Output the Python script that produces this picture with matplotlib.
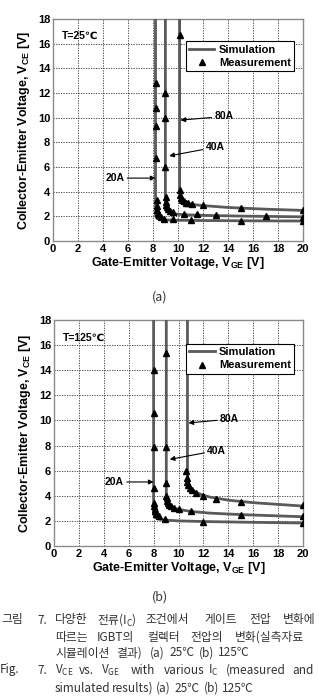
import matplotlib
matplotlib.use("Agg")
import matplotlib.pyplot as plt

# ---- data ----
# (a) T = 25C, simulation curves
sim_a_20_x = [8.2, 8.2, 8.22, 8.28, 8.4, 8.7, 9.2, 10.0, 12.0, 15.0, 20.0]
sim_a_20_y = [19.0, 2.6, 2.05, 1.86, 1.78, 1.73, 1.70, 1.68, 1.66, 1.64, 1.62]
sim_a_40_x = [8.99, 8.99, 9.02, 9.1, 9.3, 9.7, 10.5, 12.0, 15.0, 20.0]
sim_a_40_y = [19.0, 3.3, 2.8, 2.5, 2.32, 2.2, 2.13, 2.08, 2.02, 1.96]
sim_a_80_x = [10.13, 10.13, 10.16, 10.3, 10.6, 11.0, 12.0, 14.0, 17.0, 20.0]
sim_a_80_y = [19.0, 4.3, 3.7, 3.3, 3.08, 2.98, 2.87, 2.72, 2.58, 2.48]

# (a) measurements
meas_a_20_x = [8.25, 8.25, 8.25, 8.25, 8.28, 8.3, 8.33, 8.38, 8.45, 8.6, 8.9, 9.6, 11.0, 15.0, 20.0]
meas_a_20_y = [12.8, 10.8, 9.3, 6.7, 3.3, 2.8, 2.5, 2.3, 2.1, 1.95, 1.82, 1.76, 1.7, 1.65, 1.6]
meas_a_40_x = [8.99, 8.99, 8.99, 9.0, 9.03, 9.07, 9.12, 9.2, 9.35, 9.6, 10.5, 11.5, 13.0, 17.0, 20.0]
meas_a_40_y = [12.0, 10.0, 6.0, 3.6, 3.2, 2.95, 2.75, 2.6, 2.45, 2.35, 2.22, 2.15, 2.1, 2.05, 1.98]
meas_a_80_x = [10.13, 10.13, 10.15, 10.2, 10.3, 10.45, 10.6, 10.8, 11.1, 12.0, 15.0, 20.0]
meas_a_80_y = [16.7, 4.1, 3.75, 3.5, 3.35, 3.22, 3.12, 3.05, 2.98, 2.88, 2.7, 2.5]

# (b) T = 125C, simulation curves
sim_b_20_x = [8.0, 8.0, 8.03, 8.1, 8.3, 8.7, 9.2, 10.0, 12.0, 15.0, 20.0]
sim_b_20_y = [19.0, 3.0, 2.5, 2.3, 2.18, 2.1, 2.05, 2.0, 1.95, 1.9, 1.83]
sim_b_40_x = [9.02, 9.02, 9.05, 9.15, 9.35, 9.7, 10.2, 11.0, 12.5, 15.0, 20.0]
sim_b_40_y = [19.0, 4.3, 3.8, 3.45, 3.2, 3.0, 2.88, 2.75, 2.62, 2.5, 2.33]
sim_b_80_x = [10.72, 10.72, 10.75, 10.85, 11.0, 11.3, 11.8, 12.5, 14.0, 16.0, 20.0]
sim_b_80_y = [19.0, 6.0, 5.3, 4.9, 4.6, 4.35, 4.1, 3.9, 3.65, 3.45, 3.18]

# (b) measurements
meas_b_20_x = [8.0, 8.0, 8.0, 8.0, 8.03, 8.05, 8.08, 8.12, 8.2, 8.4, 8.9, 12.0, 20.0]
meas_b_20_y = [14.0, 10.6, 7.9, 4.6, 3.4, 3.15, 2.95, 2.75, 2.55, 2.35, 2.15, 1.92, 1.85]
meas_b_40_x = [9.02, 9.02, 9.02, 9.02, 9.05, 9.1, 9.15, 9.25, 9.4, 9.6, 10.0, 11.0, 15.0, 20.0]
meas_b_40_y = [15.4, 7.9, 5.0, 4.0, 3.8, 3.6, 3.45, 3.3, 3.15, 3.05, 2.92, 2.75, 2.5, 2.38]
meas_b_80_x = [10.62, 10.65, 10.7, 10.78, 10.9, 11.1, 11.4, 12.0, 13.0, 15.0, 20.0]
meas_b_80_y = [6.0, 5.4, 5.1, 4.85, 4.65, 4.45, 4.2, 4.0, 3.75, 3.5, 3.25]

current_labels = ["20A", "40A", "80A"]
temp_labels = ["T=25\u2103", "T=125\u2103"]

x_ticks = [0, 2, 4, 6, 8, 10, 12, 14, 16, 18, 20]
y_ticks = [0, 2, 4, 6, 8, 10, 12, 14, 16, 18]

plt.rcParams['font.family'] = ['Liberation Sans', 'DejaVu Sans']
plt.rcParams['font.weight'] = 'bold'
plt.rcParams['axes.labelweight'] = 'bold'
plt.rcParams['mathtext.default'] = 'regular'

fig = plt.figure(figsize=(3.19, 6.96), dpi=100)

SIM_COLOR = '#5a5a5a'


def draw_panel(ax, sims, meas, temp_label, label_pos, leg_anchor):
    for i, (sx, sy) in enumerate(sims):
        ax.plot(sx, sy, color=SIM_COLOR, lw=2.0, solid_joinstyle='round',
                label='Simulation' if i == 0 else None, zorder=3)
    for i, (mx, my) in enumerate(meas):
        ax.plot(mx, my, ls='none', marker='^', ms=4.2, color='black',
                label='Measurement' if i == 0 else None, zorder=4)

    ax.set_xlim(0, 20)
    ax.set_ylim(0, 18)
    ax.set_xticks(x_ticks)
    ax.set_yticks(y_ticks)
    ax.tick_params(length=0, labelsize=8, pad=2)
    for lbl in ax.get_xticklabels() + ax.get_yticklabels():
        lbl.set_fontweight('bold')
    ax.grid(True, color='#333333', ls=(0, (1.5, 1.5)), lw=0.6)
    for sp in ax.spines.values():
        sp.set_color('#8a8a8a')
        sp.set_linewidth(1.0)

    ax.set_xlabel('Gate-Emitter Voltage, V$_{GE}$ [V]', fontsize=9, labelpad=1)
    ax.set_ylabel('Collector-Emitter Voltage, V$_{CE}$ [V]', fontsize=9, labelpad=4)

    ax.text(0.7, 16.6, temp_label, fontsize=7.5, va='center', ha='left')

    # arrows with current labels
    for lab, (tx, ty, px, py) in zip(current_labels, label_pos):
        ax.annotate(lab, xy=(px, py), xytext=(tx, ty), fontsize=7.5,
                    va='center', ha='left',
                    arrowprops=dict(arrowstyle='-|>', color='black', lw=0.8,
                                    mutation_scale=7, shrinkA=0, shrinkB=0),
                    zorder=5)

    leg = ax.legend(loc='upper right', bbox_to_anchor=leg_anchor, fontsize=8,
                    frameon=True, fancybox=False, framealpha=1, edgecolor='black',
                    handlelength=2.3, handletextpad=0.4, borderpad=0.3,
                    labelspacing=0.3, borderaxespad=0)
    leg.get_frame().set_linewidth(0.8)


ax_a = fig.add_axes([53 / 319, 1 - 241 / 696, 250 / 319, 222 / 696])
draw_panel(ax_a,
           [(sim_a_20_x, sim_a_20_y), (sim_a_40_x, sim_a_40_y), (sim_a_80_x, sim_a_80_y)],
           [(meas_a_20_x, meas_a_20_y), (meas_a_40_x, meas_a_40_y), (meas_a_80_x, meas_a_80_y)],
           temp_labels[0],
           [(4.2, 5.1, 8.2, 5.1), (12.2, 7.6, 9.3, 6.9), (12.9, 10.1, 10.2, 9.8)],
           (0.965, 0.9))

ax_b = fig.add_axes([54 / 319, 1 - 546 / 696, 249 / 319, 226 / 696])
draw_panel(ax_b,
           [(sim_b_20_x, sim_b_20_y), (sim_b_40_x, sim_b_40_y), (sim_b_80_x, sim_b_80_y)],
           [(meas_b_20_x, meas_b_20_y), (meas_b_40_x, meas_b_40_y), (meas_b_80_x, meas_b_80_y)],
           temp_labels[1],
           [(4.1, 5.1, 8.0, 5.1), (12.3, 7.6, 9.3, 6.9), (13.3, 10.1, 10.8, 9.8)],
           (0.965, 0.895))

# panel tags
cap_font = ['Noto Sans CJK KR', 'DejaVu Sans']
fig.text(160 / 319, 1 - 297 / 696, '(a)', ha='center', va='center', fontsize=9,
         family=cap_font, weight='normal', color='#333333')
fig.text(160 / 319, 1 - 597 / 696, '(b)', ha='center', va='center', fontsize=9,
         family=cap_font, weight='normal', color='#333333')

# caption, word by word (justified in the original)
caption = [
    (620, [(1, '그림'), (37, '7.'), (55, '다양한'), (97, '전류(I$_C$)'), (145, '조건에서'),
           (204, '게이트'), (249, '전압'), (283, '변화에')]),
    (637, [(55, '따르는'), (97, 'IGBT의'), (147, '컬렉터'), (190, '전압의'), (235, '변화(실측자료')]),
    (653, [(55, '시뮬레이션'), (116, '결과)'), (150, '(a)'), (169, '25℃'), (199, '(b)'), (218, '125℃')]),
    (670, [(0, 'Fig.'), (37, '7.'), (55, 'V$_{CE}$'), (79, 'vs.'), (101, 'V$_{GE}$'), (131, 'with'),
           (164, 'various'), (208, 'I$_C$'), (226, '(measured'), (292, 'and')]),
    (688, [(55, 'simulated'), (112, 'results)'), (156, '(a)'), (174, '25℃'), (204, '(b)'), (222, '125℃')]),
]
for y, words in caption:
    for x, w in words:
        fig.text(x / 319, 1 - y / 696, w, ha='left', va='center', fontsize=8.5,
                 family=cap_font, weight='normal', color='#333333')

fig.savefig('out.png', dpi=100)
